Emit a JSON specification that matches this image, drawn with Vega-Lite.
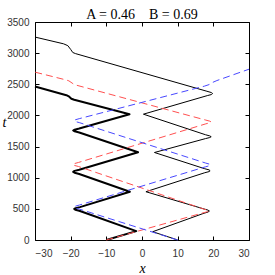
{
  "$schema": "https://vega.github.io/schema/vega-lite/v6.json",
  "width": 214,
  "height": 218,
  "autosize": {"type": "none"},
  "padding": {"left": 35, "top": 22, "right": 26, "bottom": 35},
  "title": {"text": "A = 0.46\u00a0\u00a0\u00a0\u00a0B = 0.69", "font": "Liberation Serif", "fontSize": 14, "fontWeight": "normal", "color": "black", "offset": 5, "dy": 10},
  "config": {
    "view": {"stroke": "black", "strokeWidth": 1},
    "axis": {"grid": false, "domain": false, "tickColor": "black", "tickSize": -4, "labelFont": "Liberation Sans", "labelFontSize": 10, "labelColor": "#333", "format": "d", "titleFont": "Liberation Serif", "titleFontStyle": "italic", "titleFontWeight": "normal", "titleFontSize": 14, "titleColor": "black"}
  },
  "data": {"values": [
    {"s": "a", "i": 1, "x": -10, "t": 0},
    {"s": "a", "i": 2, "x": -1.6, "t": 142},
    {"s": "a", "i": 3, "x": -17.6, "t": 470},
    {"s": "a", "i": 4, "x": -18.7, "t": 487},
    {"s": "a", "i": 5, "x": -19.0, "t": 500},
    {"s": "a", "i": 6, "x": -18.6, "t": 512},
    {"s": "a", "i": 7, "x": -17.4, "t": 528},
    {"s": "a", "i": 8, "x": -3.4, "t": 775},
    {"s": "a", "i": 9, "x": -17.6, "t": 1060},
    {"s": "a", "i": 10, "x": -18.9, "t": 1080},
    {"s": "a", "i": 11, "x": -19.3, "t": 1095},
    {"s": "a", "i": 12, "x": -18.9, "t": 1110},
    {"s": "a", "i": 13, "x": -17.6, "t": 1128},
    {"s": "a", "i": 14, "x": -1.1, "t": 1410},
    {"s": "a", "i": 15, "x": -17.6, "t": 1725},
    {"s": "a", "i": 16, "x": -18.9, "t": 1745},
    {"s": "a", "i": 17, "x": -19.3, "t": 1758},
    {"s": "a", "i": 18, "x": -18.9, "t": 1771},
    {"s": "a", "i": 19, "x": -17.6, "t": 1790},
    {"s": "a", "i": 20, "x": -3.5, "t": 2020},
    {"s": "a", "i": 21, "x": -19.0, "t": 2252},
    {"s": "a", "i": 22, "x": -19.8, "t": 2268},
    {"s": "a", "i": 23, "x": -20.4, "t": 2300},
    {"s": "a", "i": 24, "x": -21.2, "t": 2325},
    {"s": "a", "i": 25, "x": -30, "t": 2465},
    {"s": "b", "i": 1, "x": 10, "t": 0},
    {"s": "b", "i": 2, "x": 3.0, "t": 133},
    {"s": "b", "i": 3, "x": 17.4, "t": 430},
    {"s": "b", "i": 4, "x": 18.5, "t": 448},
    {"s": "b", "i": 5, "x": 18.9, "t": 465},
    {"s": "b", "i": 6, "x": 18.5, "t": 480},
    {"s": "b", "i": 7, "x": 17.4, "t": 498},
    {"s": "b", "i": 8, "x": 1.1, "t": 775},
    {"s": "b", "i": 9, "x": 17.6, "t": 1080},
    {"s": "b", "i": 10, "x": 18.8, "t": 1098},
    {"s": "b", "i": 11, "x": 19.1, "t": 1112},
    {"s": "b", "i": 12, "x": 18.8, "t": 1126},
    {"s": "b", "i": 13, "x": 17.6, "t": 1144},
    {"s": "b", "i": 14, "x": 3.5, "t": 1405},
    {"s": "b", "i": 15, "x": 17.8, "t": 1628},
    {"s": "b", "i": 16, "x": 19.0, "t": 1645},
    {"s": "b", "i": 17, "x": 19.4, "t": 1658},
    {"s": "b", "i": 18, "x": 19.0, "t": 1671},
    {"s": "b", "i": 19, "x": 17.8, "t": 1690},
    {"s": "b", "i": 20, "x": 0.4, "t": 2020},
    {"s": "b", "i": 21, "x": 18.3, "t": 2318},
    {"s": "b", "i": 22, "x": 19.5, "t": 2336},
    {"s": "b", "i": 23, "x": 19.8, "t": 2352},
    {"s": "b", "i": 24, "x": 19.4, "t": 2368},
    {"s": "b", "i": 25, "x": 18.2, "t": 2388},
    {"s": "b", "i": 26, "x": -18.6, "t": 2992},
    {"s": "b", "i": 27, "x": -19.4, "t": 3010},
    {"s": "b", "i": 28, "x": -20.0, "t": 3060},
    {"s": "b", "i": 29, "x": -20.8, "t": 3120},
    {"s": "b", "i": 30, "x": -22, "t": 3150},
    {"s": "b", "i": 31, "x": -30, "t": 3258},
    {"s": "c", "i": 1, "x": -10, "t": 0},
    {"s": "c", "i": 2, "x": 17.4, "t": 440},
    {"s": "c", "i": 3, "x": 18.4, "t": 455},
    {"s": "c", "i": 4, "x": 18.8, "t": 467},
    {"s": "c", "i": 5, "x": 18.4, "t": 480},
    {"s": "c", "i": 6, "x": 17.4, "t": 495},
    {"s": "c", "i": 7, "x": -17.8, "t": 1180},
    {"s": "c", "i": 8, "x": -19.0, "t": 1198},
    {"s": "c", "i": 9, "x": -19.4, "t": 1212},
    {"s": "c", "i": 10, "x": -19.0, "t": 1226},
    {"s": "c", "i": 11, "x": -17.8, "t": 1245},
    {"s": "c", "i": 12, "x": 17.9, "t": 1865},
    {"s": "c", "i": 13, "x": 19.0, "t": 1882},
    {"s": "c", "i": 14, "x": 19.4, "t": 1895},
    {"s": "c", "i": 15, "x": 19.0, "t": 1908},
    {"s": "c", "i": 16, "x": 17.9, "t": 1925},
    {"s": "c", "i": 17, "x": -19.0, "t": 2495},
    {"s": "c", "i": 18, "x": -19.6, "t": 2520},
    {"s": "c", "i": 19, "x": -20.5, "t": 2555},
    {"s": "c", "i": 20, "x": -21.3, "t": 2570},
    {"s": "c", "i": 21, "x": -30, "t": 2695},
    {"s": "d", "i": 1, "x": 10, "t": 0},
    {"s": "d", "i": 2, "x": -17.5, "t": 495},
    {"s": "d", "i": 3, "x": -18.6, "t": 512},
    {"s": "d", "i": 4, "x": -19.0, "t": 528},
    {"s": "d", "i": 5, "x": -18.6, "t": 544},
    {"s": "d", "i": 6, "x": -17.5, "t": 562},
    {"s": "d", "i": 7, "x": 17.8, "t": 1175},
    {"s": "d", "i": 8, "x": 18.9, "t": 1192},
    {"s": "d", "i": 9, "x": 19.2, "t": 1205},
    {"s": "d", "i": 10, "x": 18.9, "t": 1218},
    {"s": "d", "i": 11, "x": 17.8, "t": 1236},
    {"s": "d", "i": 12, "x": -17.6, "t": 1885},
    {"s": "d", "i": 13, "x": -18.7, "t": 1902},
    {"s": "d", "i": 14, "x": -19.0, "t": 1916},
    {"s": "d", "i": 15, "x": -18.7, "t": 1930},
    {"s": "d", "i": 16, "x": -17.6, "t": 1948},
    {"s": "d", "i": 17, "x": 17.5, "t": 2470},
    {"s": "d", "i": 18, "x": 18.8, "t": 2495},
    {"s": "d", "i": 19, "x": 19.8, "t": 2530},
    {"s": "d", "i": 20, "x": 21, "t": 2560},
    {"s": "d", "i": 21, "x": 30, "t": 2742}
  ]},
  "layer": [
    {
      "transform": [{"filter": "datum.s === 'a'"}],
      "mark": {"type": "line", "strokeJoin": "round", "color": "black", "strokeWidth": 2},
      "encoding": {
        "x": {"field": "x", "type": "quantitative", "scale": {"domain": [-30, 30], "nice": false, "zero": false},
              "axis": {"orient": "bottom", "values": [-30, -20, -10, 0, 10, 20, 30], "title": "x", "labelPadding": 12, "titlePadding": 3}},
        "y": {"field": "t", "type": "quantitative", "scale": {"domain": [0, 3500], "nice": false},
              "axis": {"orient": "left", "values": [0, 500, 1000, 1500, 2000, 2500, 3000, 3500], "title": "t", "labelPadding": 10, "titleAngle": 0, "titleX": -31, "titleY": 100, "titleAlign": "center", "titleBaseline": "middle"}},
        "order": {"field": "i", "type": "quantitative"}
      }
    },
    {
      "transform": [{"filter": "datum.s === 'b'"}],
      "mark": {"type": "line", "strokeJoin": "round", "color": "black", "strokeWidth": 1},
      "encoding": {
        "x": {"field": "x", "type": "quantitative", "axis": {"orient": "top", "values": [-30, -20, -10, 0, 10, 20, 30], "labels": false, "title": null}},
        "y": {"field": "t", "type": "quantitative", "axis": {"orient": "right", "values": [0, 500, 1000, 1500, 2000, 2500, 3000, 3500], "labels": false, "title": null}},
        "order": {"field": "i", "type": "quantitative"}
      }
    },
    {
      "transform": [{"filter": "datum.s === 'c'"}],
      "mark": {"type": "line", "strokeJoin": "round", "color": "#ff5050", "strokeWidth": 1, "strokeDash": [7, 4]},
      "encoding": {
        "x": {"field": "x", "type": "quantitative", "axis": null},
        "y": {"field": "t", "type": "quantitative", "axis": null},
        "order": {"field": "i", "type": "quantitative"}
      }
    },
    {
      "transform": [{"filter": "datum.s === 'd'"}],
      "mark": {"type": "line", "strokeJoin": "round", "color": "#4848ff", "strokeWidth": 1, "strokeDash": [7, 4]},
      "encoding": {
        "x": {"field": "x", "type": "quantitative", "axis": null},
        "y": {"field": "t", "type": "quantitative", "axis": null},
        "order": {"field": "i", "type": "quantitative"}
      }
    }
  ],
  "resolve": {"axis": {"x": "independent", "y": "independent"}}
}
